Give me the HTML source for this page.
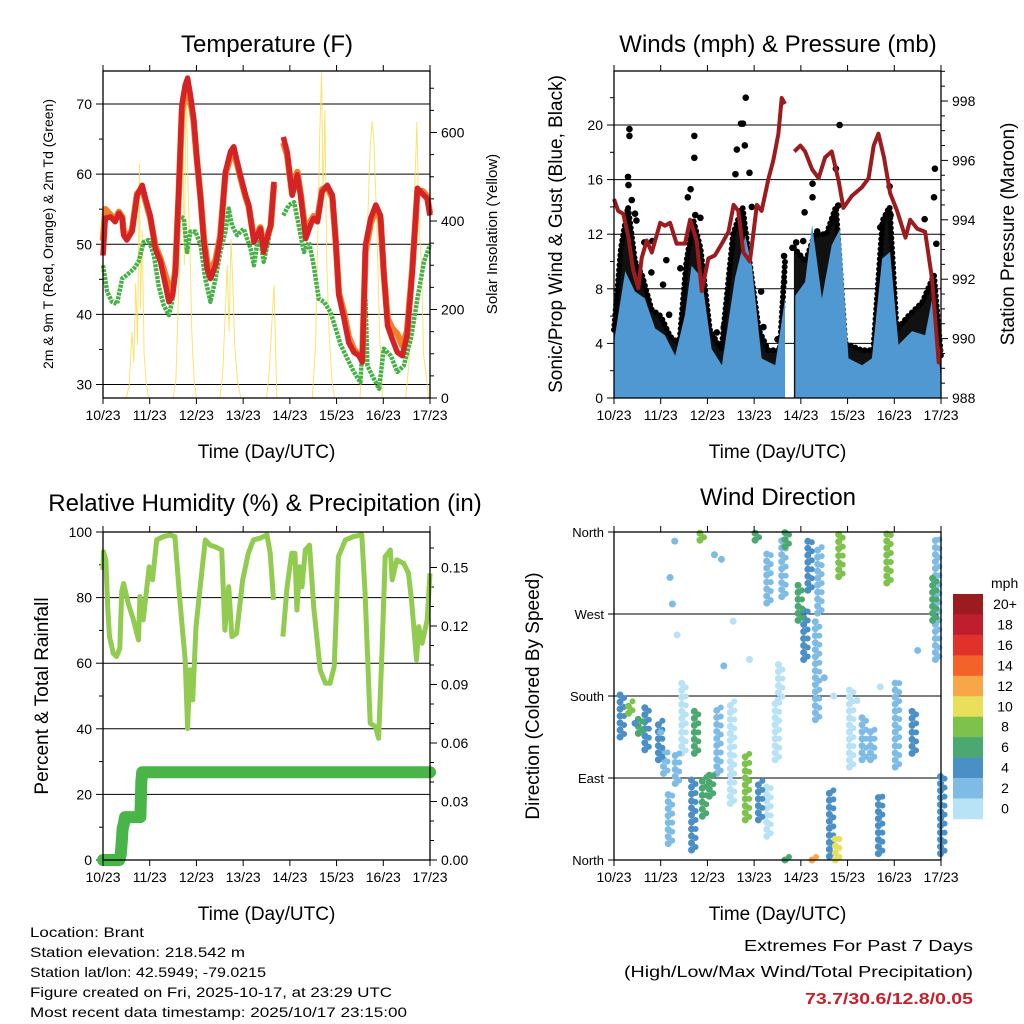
<!DOCTYPE html>
<html><head><meta charset="utf-8"><style>
html,body{margin:0;padding:0;background:#fff}
svg{display:block;font-family:"Liberation Sans",sans-serif}
</style></head><body>
<svg id="chart" width="1024" height="1024" viewBox="0 0 1024 1024" xmlns="http://www.w3.org/2000/svg">
<rect width="1024" height="1024" fill="#fff"/>
<g id="p1"></g>
<g id="p2"></g>
<g id="p3"></g>
<g id="p4"></g>
<g id="cb"></g>
<g font-size="14" fill="#000">
<text x="30" y="937" textLength="114" lengthAdjust="spacingAndGlyphs">Location: Brant</text>
<text x="30" y="957" textLength="215" lengthAdjust="spacingAndGlyphs">Station elevation: 218.542 m</text>
<text x="30" y="977" textLength="236" lengthAdjust="spacingAndGlyphs">Station lat/lon: 42.5949; -79.0215</text>
<text x="30" y="997" textLength="362" lengthAdjust="spacingAndGlyphs">Figure created on Fri, 2025-10-17, at 23:29 UTC</text>
<text x="30" y="1017" textLength="377" lengthAdjust="spacingAndGlyphs">Most recent data timestamp: 2025/10/17 23:15:00</text>
</g>
<g font-size="16" text-anchor="end">
<text x="973" y="951" textLength="229" lengthAdjust="spacingAndGlyphs">Extremes For Past 7 Days</text>
<text x="973" y="977" textLength="349" lengthAdjust="spacingAndGlyphs">(High/Low/Max Wind/Total Precipitation)</text>
<text x="973" y="1004" font-weight="bold" fill="#C8202A" textLength="168" lengthAdjust="spacingAndGlyphs">73.7/30.6/12.8/0.05</text>
</g>
</svg>
<script>
// ---------- DATA ----------
const dayLabels = ["10/23","11/23","12/23","13/23","14/23","15/23","16/23","17/23"];
const tDays = [0,0.05,0.16,0.26,0.34,0.41,0.44,0.51,0.62,0.73,0.84,0.91,1.01,1.12,1.23,1.34,1.41,1.49,1.55,1.62,1.69,1.76,1.81,1.87,1.94,2.01,2.09,2.16,2.23,2.30,2.41,2.51,2.62,2.73,2.80,2.87,2.94,3.05,3.12,3.23,3.30,3.37,3.44,3.51,3.59,3.66,3.76,3.86,3.94,4.05,4.16,4.23,4.34,4.44,4.51,4.59,4.69,4.80,4.91,4.98,5.05,5.16,5.26,5.37,5.48,5.55,5.62,5.73,5.84,5.94,6.01,6.09,6.19,6.30,6.41,6.51,6.62,6.73,6.84,6.94,7.0];
const temp2m = [48.4,53.7,53.9,53.2,54.4,53.7,51.3,50.6,51.8,57.0,58.4,56.5,54.1,49.4,47.5,44.1,41.8,42.7,46.0,57.5,69.9,72.7,73.7,71.3,68.0,62.2,56.5,50.3,46.5,45.1,47.0,50.8,60.3,63.2,63.9,61.8,59.9,57.0,55.6,50.3,51.3,52.2,48.9,50.8,52.7,58.9,null,65.3,63.2,57.0,59.9,57.0,50.8,52.7,53.7,53.2,57.5,58.4,57.0,50.8,42.7,39.4,36.0,34.6,34.1,33.2,49.9,53.7,55.6,54.1,46.0,38.4,36.5,34.6,34.1,37.0,46.0,58.0,57.2,56.5,54.1];
const temp9m = [50.5,55.0,54.2,53.5,54.6,53.9,51.8,51.0,52.0,57.2,58.0,56.2,53.8,49.8,47.9,45.5,43.8,43.5,46.4,57.0,69.0,71.5,72.4,70.5,67.6,62.0,56.6,50.8,47.4,46.0,47.8,51.2,60.0,62.5,63.0,61.5,59.6,56.8,55.4,50.8,51.6,52.4,49.4,51.0,52.6,58.5,null,64.5,62.8,57.2,60.3,57.2,51.5,53.2,54.0,53.5,57.8,58.2,56.6,50.6,43.0,40.2,36.8,35.0,34.2,33.6,49.0,53.0,55.0,53.6,45.8,39.5,38.0,37.2,35.5,37.6,46.2,57.5,57.6,56.8,54.4];
const tdDays = [0,0.09,0.19,0.30,0.41,0.51,0.66,0.76,0.87,0.98,1.09,1.19,1.30,1.41,1.49,1.55,1.62,1.73,1.80,1.87,1.98,2.09,2.19,2.30,2.41,2.51,2.62,2.69,2.76,2.87,3.01,3.16,3.23,3.34,3.44,3.55,3.62,3.74,3.86,3.98,4.09,4.19,4.30,4.41,4.51,4.62,4.73,4.87,4.98,5.09,5.23,5.37,5.51,5.62,5.66,5.76,5.91,6.01,6.16,6.30,6.44,6.59,6.73,6.87,7.0];
const dewpoint = [47.0,43.2,41.8,41.5,45.1,45.6,46.5,47.5,50.3,50.6,48.4,44.1,41.3,39.9,42.2,48.9,54.1,53.7,48.9,51.8,51.8,49.9,45.1,41.8,45.1,48.9,51.8,55.1,52.7,51.3,52.2,49.4,47.0,51.8,47.5,50.8,54.1,null,54.1,55.6,56.0,52.7,48.9,50.3,47.0,42.2,41.8,40.3,38.0,35.6,33.7,31.8,30.3,42.2,32.7,31.3,29.4,35.1,34.1,31.8,32.7,36.5,42.2,47.5,49.9];
const solarDays = [0,0.5,0.56,0.62,0.66,0.70,0.74,0.78,0.80,0.84,0.88,0.93,0.98,1.5,1.56,1.62,1.66,1.70,1.74,1.78,1.82,1.86,1.90,1.95,2.0,2.5,2.56,2.62,2.66,2.70,2.74,2.78,2.82,2.88,2.95,3.5,3.56,3.62,3.66,3.72,4.48,4.55,4.60,4.64,4.68,4.71,4.75,4.79,4.84,4.90,4.96,5.5,5.58,5.66,5.72,5.76,5.80,5.86,5.92,5.98,6.48,6.55,6.62,6.68,6.72,6.76,6.82,6.86,6.92,6.97,7.0];
const solar = [0,0,30,150,80,260,120,530,200,380,100,30,0,0,40,250,420,700,300,720,480,350,150,40,0,0,50,200,300,150,360,250,120,40,0,0,60,180,255,0,0,120,380,600,740,450,650,300,150,40,0,0,120,380,570,625,580,400,150,0,0,80,300,500,624,400,300,100,50,0,0];
// Winds
const windDays = [0,0.24,0.45,0.66,0.88,1.09,1.31,1.52,1.66,1.88,2.09,2.31,2.59,2.81,2.95,3.16,3.45,3.66,3.76,3.88,4.09,4.24,4.45,4.66,4.84,5.02,5.31,5.52,5.74,5.91,6.09,6.38,6.66,6.84,6.99];
const windHigh = [4.1,9.3,7.8,7.3,5.1,4.6,3.1,6.1,9.7,8.8,3.6,2.4,8.8,11.9,9.7,2.9,2.4,7.3,null,7.5,8.5,12.7,7.3,11.2,12.4,2.9,2.4,2.9,10.2,10.7,3.9,4.9,4.6,7.8,1.7];
const gustDays = [0,0.15,0.3,0.45,0.6,0.8,1.0,1.2,1.4,1.55,1.7,1.85,2.05,2.3,2.55,2.75,2.9,3.1,3.3,3.55,3.66,3.76,3.85,4.1,4.3,4.55,4.75,4.95,5.3,5.55,5.75,5.9,6.05,6.3,6.6,6.85,7.0];
const gustHigh = [5,11,14,10,9,6.5,6,4.5,4,10,13,11,5,3.5,12,14,10,5,3.5,3.5,10,null,11,10,12,12,14,4,3.5,3.5,13,14,5,6,7,9,3];
const gustDotDays = [0.33,0.33,0.31,0.3,0.38,0.45,0.48,0.65,0.8,0.82,1.05,1.12,1.18,1.42,1.58,1.64,1.72,1.72,1.74,1.85,2.2,2.35,2.6,2.63,2.72,2.76,2.82,2.8,2.9,2.95,3.15,3.2,3.5,3.64,3.64,3.82,3.9,4.05,4.08,4.25,4.25,4.75,4.8,4.83,5.9,5.92,6.65,6.85,6.87,6.9,5.7,4.35];
const gustDotVals = [19.7,19.2,15.6,16.2,14.5,13.5,13,11.4,9.2,11.5,8.3,10.1,6.1,9.5,14.7,15.3,17.6,19.2,13.4,13.2,4.8,5.2,16.4,18.2,20.1,20.1,22,18.5,16.5,14,7.8,5.2,4.3,10.4,8.5,11,11.4,11.5,13.6,15.7,14.7,16.8,14.1,20,15.5,13.4,13.1,14.7,16.8,11.3,12.5,12.2];
const presDays = [0,0.09,0.2,0.31,0.41,0.52,0.59,0.7,0.81,0.99,1.09,1.2,1.34,1.52,1.63,1.77,1.88,2.02,2.16,2.31,2.45,2.56,2.66,2.77,2.91,3.06,3.16,3.31,3.41,3.52,3.59,3.66,3.76,3.86,3.99,4.09,4.24,4.38,4.52,4.66,4.81,4.91,5.09,5.31,5.45,5.56,5.66,5.78,5.91,6.06,6.24,6.34,6.49,6.66,6.81,6.95,7.0];
const pressure = [994.7,994.3,994.2,993.4,992.3,991.7,992.7,993.3,992.9,993.9,993.8,993.9,993.2,993.2,994.0,993.3,991.6,992.7,992.8,993.2,993.6,994.5,994.3,992.9,992.6,994.5,994.3,995.4,996.0,996.9,998.1,997.9,null,996.3,996.5,996.3,995.7,995.4,996.1,996.3,995.3,994.4,994.8,995.1,995.4,996.5,996.9,996.1,994.9,994.3,993.4,994.0,993.7,993.6,992.0,989.2,989.7];
// RH & precipitation
const rhDays = [0,0.01,0.06,0.1,0.14,0.22,0.29,0.36,0.4,0.44,0.49,0.54,0.65,0.76,0.79,0.86,0.94,0.99,1.06,1.15,1.29,1.44,1.54,1.65,1.76,1.81,1.86,1.92,1.99,2.08,2.19,2.29,2.4,2.54,2.61,2.69,2.76,2.86,2.99,3.11,3.22,3.36,3.51,3.58,3.65,3.75,3.85,3.94,4.04,4.11,4.15,4.21,4.26,4.33,4.42,4.51,4.65,4.76,4.86,4.95,5.04,5.19,5.36,5.54,5.61,5.72,5.83,5.9,5.97,6.04,6.15,6.19,6.29,6.44,6.54,6.61,6.71,6.76,6.83,6.94,7.0];
const rh = [88.4,94,91.5,77.2,68.1,63,62,64.5,81.8,84.3,81.3,78.3,73.2,67.1,80.3,73.2,83.3,89.4,85.4,97.6,98.6,99.1,98.6,78.3,61,40.1,58,48.8,71.1,83.3,97.6,96,95.5,94.5,70.1,83.3,68.1,69.1,85.4,93.5,97.6,98.1,99.1,93.5,79.3,null,68.1,83.3,93.5,93.5,76.2,89.4,83.3,94.5,96,77.2,57.9,53.9,53.9,58.9,92.5,97.6,98.6,99.1,81.3,41.7,40.7,37.1,63,92.5,94.5,85.4,91.5,90.4,87.4,78.3,61,71.1,66.1,73.2,87.4];
const precipDays = [0,0.35,0.38,0.4,0.42,0.45,0.47,0.8,0.82,0.84,7.0];
const precip = [0,0,0.003,0.009,0.016,0.019,0.022,0.022,0.04,0.045,0.045];
// Wind direction streaks: day, direction from, direction to (deg), speed (mph)
const dirDays = [0.13,0.31,0.52,0.66,0.95,1.06,1.31,1.16,1.45,1.66,1.72,1.89,2.04,2.2,2.49,2.81,3.09,3.27,3.45,3.52,3.59,3.27,3.94,4.06,4.15,4.36,4.31,4.81,4.61,4.74,5.04,5.31,5.49,5.66,5.84,6.02,6.38,6.82,6.88,6.99,3.66,3.02,1.84,4.24,3.66];
const dirFrom = [135,161,139,121,110,95,84,18,117,11,117,48,70,95,62,44,44,26,110,176,289,282,263,220,296,271,154,311,4,0,102,110,110,7,304,102,117,263,220,7,344,351,351,0,0];
const dirTo = [183,176,161,168,154,124,117,73,198,88,168,91,95,168,176,117,88,81,176,216,355,337,304,275,355,344,264,359,77,26,190,157,146,70,359,198,165,311,355,99,360,360,359,7,7];
const dirSpeed = [4,9,7,4,4,2,3,2,1,4,6,7,7,3,1,9,4,1,1,1,2,2,6,4,5,2,3,9,4,10,1,2,3,5,9,2,4,6,3,4,6,6,8,13,6];
const dirDotDays = [1.2,1.3,1.35,2.3,2.35,1.25,2.15,2.55,4.7,5.7,0.45,1.0,2.9,4.5,5.2,6.5];
const dirDotDeg = [310,350,247,330,213,281,335,262,180,190,150,140,220,200,175,230];
const dirDotSpeed = [2,2,1,2,2,3,2,1,1,1,4,3,1,2,1,2];
const cbLabels = ["20+","18","16","14","12","10","8","6","4","2","0"];
const cbColors = ["#9B1B1E","#BE1E2D","#E1312B","#F26229","#F8A647","#E8E05A","#7DC24A","#4BA870","#4A8FC6","#7EBCE6","#B8E2F6"];

// ---------- HELPERS ----------
const NS = "http://www.w3.org/2000/svg";
function mk(parent, tag, attrs){const e=document.createElementNS(NS,tag);for(const k in attrs)e.setAttribute(k,attrs[k]);parent.appendChild(e);return e;}
function lin(d0,d1,r0,r1){return v=>r0+(v-d0)/(d1-d0)*(r1-r0);}
function pathFrom(xs,ys,fx,fy){let d="",pen=false;for(let i=0;i<xs.length;i++){if(ys[i]==null){pen=false;continue;}d+=(pen?"L":"M")+fx(xs[i]).toFixed(1)+","+fy(ys[i]).toFixed(1);pen=true;}return d;}
function areaFrom(xs,hi,fx,fy,base){let out="",seg=[];const flush=()=>{if(seg.length<2){seg=[];return;}let d="M"+fx(xs[seg[0]]).toFixed(1)+","+base;seg.forEach(i=>{d+="L"+fx(xs[i]).toFixed(1)+","+fy(hi[i]).toFixed(1);});d+="L"+fx(xs[seg[seg.length-1]]).toFixed(1)+","+base+"Z";out+=d;seg=[];};for(let i=0;i<xs.length;i++){if(hi[i]==null){flush();continue;}seg.push(i);}flush();return out;}
function speedColor(s){const idx=Math.min(10,Math.floor(s/2));return cbColors[10-idx];}

function frame(g,L,R,T,B,fx){
  const box=mk(g,"rect",{x:L,y:T,width:R-L,height:B-T,fill:"none",stroke:"#000","stroke-width":1.3});
  
  
  dayLabels.forEach((lab,i)=>{
    const x=fx(i);
    const tk=mk(g,"line",{x1:x,x2:x,y1:B,y2:B+6,stroke:"#000"});
    
    
    const tt=mk(g,"line",{x1:x,x2:x,y1:T,y2:T-6,stroke:"#000"});
    
    
    const t=mk(g,"text",{x:x,y:B+22,"font-size":14,"text-anchor":"middle"});t.textContent=lab;
    
    
  });
  const xt=mk(g,"text",{x:(L+R)/2,y:B+60,"font-size":19,"text-anchor":"middle"});xt.textContent="Time (Day/UTC)";
  
  
}
function title(g,x,y,txt){const t=mk(g,"text",{x:x,y:y,"font-size":24,"text-anchor":"middle"});t.textContent=txt;
  
  }
function yTitle(g,x,y,txt,size){const t=mk(g,"text",{x:0,y:0,"font-size":size,"text-anchor":"middle",transform:`translate(${x},${y}) rotate(-90)`});t.textContent=txt;
  
  }
function grid(g,L,R,y){const l=mk(g,"line",{x1:L,x2:R,y1:y,y2:y,stroke:"#000","stroke-width":1});
  
  }
function tick(g,x,y,dir,len,label,anchor,size){
  const l=mk(g,"line",{x1:x,x2:x+dir*len,y1:y,y2:y,stroke:"#000"});
  
  
  if(label!=null){const t=mk(g,"text",{x:x+dir*(len+4),y:y+5,"font-size":size||14,"text-anchor":anchor});t.textContent=label;
  
  }
}

// ---------- PANEL 1: TEMPERATURE ----------
(function(){
  const g=document.getElementById("p1");
  const L=103,R=430,T=71,B=398;
  const fx=lin(0,7,L,R), fy=lin(30,70,384.5,104), fs=lin(0,600,398,132.5);
  title(g,267,52,"Temperature (F)");
  [30,40,50,60,70].forEach(v=>grid(g,L,R,fy(v)));
  for(let v=30;v<=70;v+=10)tick(g,L,fy(v),-1,7,String(v),"end");
  for(let v=35;v<=70;v+=10)tick(g,L,fy(v),-1,4,null);
  for(let v=0;v<=600;v+=200)tick(g,R,fs(v),1,7,String(v),"start");
  for(let v=50;v<=700;v+=50)if(v%200)tick(g,R,fs(v),1,4,null);
  const sol=mk(g,"path",{d:pathFrom(solarDays,solar,fx,fs),fill:"none",stroke:"#F7DF5A","stroke-width":1,"stroke-opacity":0.85});
  
  
  const td=mk(g,"path",{d:pathFrom(tdDays,dewpoint,fx,fy),fill:"none",stroke:"#46B146","stroke-width":4.5,"stroke-dasharray":"3 1","stroke-linejoin":"round"});
  
  
  const o=mk(g,"path",{d:pathFrom(tDays,temp9m,fx,fy),fill:"none",stroke:"#F47E2A","stroke-width":6.5,"stroke-linejoin":"round"});
  
  
  const r=mk(g,"path",{d:pathFrom(tDays,temp2m,fx,fy),fill:"none",stroke:"#D42225","stroke-width":5.5,"stroke-linejoin":"round"});
  
  
  frame(g,L,R,T,B,fx);
  yTitle(g,53,234,"2m & 9m T (Red, Orange) & 2m Td (Green)",14);
  yTitle(g,497,234,"Solar Insolation (Yellow)",15);
})();

// ---------- PANEL 2: WINDS ----------
(function(){
  const g=document.getElementById("p2");
  const L=614,R=941,T=71,B=398;
  const fx=lin(0,7,L,R), fy=lin(0,20,398,125), fp=lin(988,998,398,101);
  title(g,778,52,"Winds (mph) & Pressure (mb)");
  [4,8,12,16,20].forEach(v=>grid(g,L,R,fy(v)));
  for(let v=0;v<=20;v+=4)tick(g,L,fy(v),-1,7,String(v),"end");
  for(let v=2;v<=22;v+=4)tick(g,L,fy(v),-1,4,null);
  for(let v=988;v<=998;v+=2)tick(g,R,fp(v),1,7,String(v),"start");
  for(let v=988.5;v<=999;v+=0.5)if(v%2)tick(g,R,fp(v),1,4,null);
  const gb=mk(g,"path",{d:areaFrom(gustDays,gustHigh,fx,fy,B),fill:"#111",stroke:"none"});
  
  
  const ge=mk(g,"path",{d:pathFrom(gustDays,gustHigh,fx,fy),fill:"none",stroke:"#000","stroke-width":6,"stroke-dasharray":"0 5","stroke-linecap":"round"});
  
  
  gustDotDays.forEach((d,i)=>{
    const c=mk(g,"circle",{cx:fx(d),cy:fy(gustDotVals[i]),r:3.3,fill:"#000"});
    
    
  });
  const wb=mk(g,"path",{d:areaFrom(windDays,windHigh,fx,fy,B),fill:"#4F98D2",stroke:"none"});
  
  
  const p=mk(g,"path",{d:pathFrom(presDays,pressure,fx,fp),fill:"none",stroke:"#9B1B1E","stroke-width":4,"stroke-linejoin":"round"});
  
  
  frame(g,L,R,T,B,fx);
  yTitle(g,562,234,"Sonic/Prop Wind & Gust (Blue, Black)",19);
  yTitle(g,1014,234,"Station Pressure (Maroon)",19);
})();

// ---------- PANEL 3: RH & PRECIP ----------
(function(){
  const g=document.getElementById("p3");
  const L=103,R=430,T=532,B=860;
  const fx=lin(0,7,L,R), fy=lin(0,100,860,532), fq=lin(0,0.15,860,567.5);
  title(g,265,511,"Relative Humidity (%) & Precipitation (in)");
  [20,40,60,80,100].forEach(v=>grid(g,L,R,fy(v)));
  for(let v=0;v<=100;v+=20)tick(g,L,fy(v),-1,7,String(v),"end");
  for(let v=10;v<=90;v+=20)tick(g,L,fy(v),-1,4,null);
  for(let v=0;v<=0.15001;v+=0.03)tick(g,R,fq(v),1,7,v.toFixed(2),"start");
  for(let v=0.01;v<=0.165;v+=0.01)if(Math.round(v*100)%3)tick(g,R,fq(v),1,4,null);
  const pr=mk(g,"path",{d:pathFrom(precipDays,precip,fx,fq),fill:"none",stroke:"#49B549","stroke-width":12,"stroke-linejoin":"round","stroke-linecap":"round"});
  
  
  const r=mk(g,"path",{d:pathFrom(rhDays,rh,fx,fy),fill:"none",stroke:"#91CB4F","stroke-width":5,"stroke-linejoin":"round"});
  
  
  frame(g,L,R,T,B,fx);
  yTitle(g,48,696,"Percent & Total Rainfall",19);
})();

// ---------- PANEL 4: WIND DIRECTION ----------
(function(){
  const g=document.getElementById("p4");
  const L=614,R=941,T=532,B=860;
  const fx=lin(0,7,L,R), fy=lin(0,360,860,532);
  title(g,778,505,"Wind Direction");
  [90,180,270,360].forEach(v=>grid(g,L,R,fy(v)));
  ["North","East","South","West","North"].forEach((lab,i)=>tick(g,L,fy(i*90),-1,6,lab,"end",13));
  const order=dirSpeed.map((s,i)=>i).sort((a,b)=>dirSpeed[a]-dirSpeed[b]);
  order.forEach(i=>{
    const l=mk(g,"line",{x1:fx(dirDays[i]),x2:fx(dirDays[i]),y1:fy(dirFrom[i]),y2:fy(dirTo[i]),stroke:speedColor(dirSpeed[i]),"stroke-width":7,"stroke-linecap":"round","stroke-dasharray":"0 7"});
    
    
    const l2=mk(g,"line",{x1:fx(dirDays[i])+4,x2:fx(dirDays[i])+4,y1:fy(dirFrom[i])-3,y2:fy(dirTo[i]),stroke:speedColor(dirSpeed[i]),"stroke-width":6,"stroke-linecap":"round","stroke-dasharray":"0 9"});
    
    
  });
  dirDotDays.forEach((d,i)=>{
    const c=mk(g,"circle",{cx:fx(d),cy:fy(dirDotDeg[i]),r:3.5,fill:speedColor(dirDotSpeed[i])});
    
    
  });
  frame(g,L,R,T,B,fx);
  yTitle(g,539,696,"Direction (Colored By Speed)",19);
})();

// ---------- COLORBAR ----------
(function(){
  const g=document.getElementById("cb");
  const x=953,w=30,y0=594,h=20.45;
  const t=mk(g,"text",{x:991,y:588,"font-size":14});t.textContent="mph";
  
  
  cbColors.forEach((c,i)=>{
    const r=mk(g,"rect",{x:x,y:y0+i*h,width:w,height:h+0.3,fill:c});
    
    
    const l=mk(g,"text",{x:1005,y:y0+i*h+15,"font-size":14,"text-anchor":"middle"});l.textContent=cbLabels[i];
    
    
  });
})();
</script>
</body></html>
